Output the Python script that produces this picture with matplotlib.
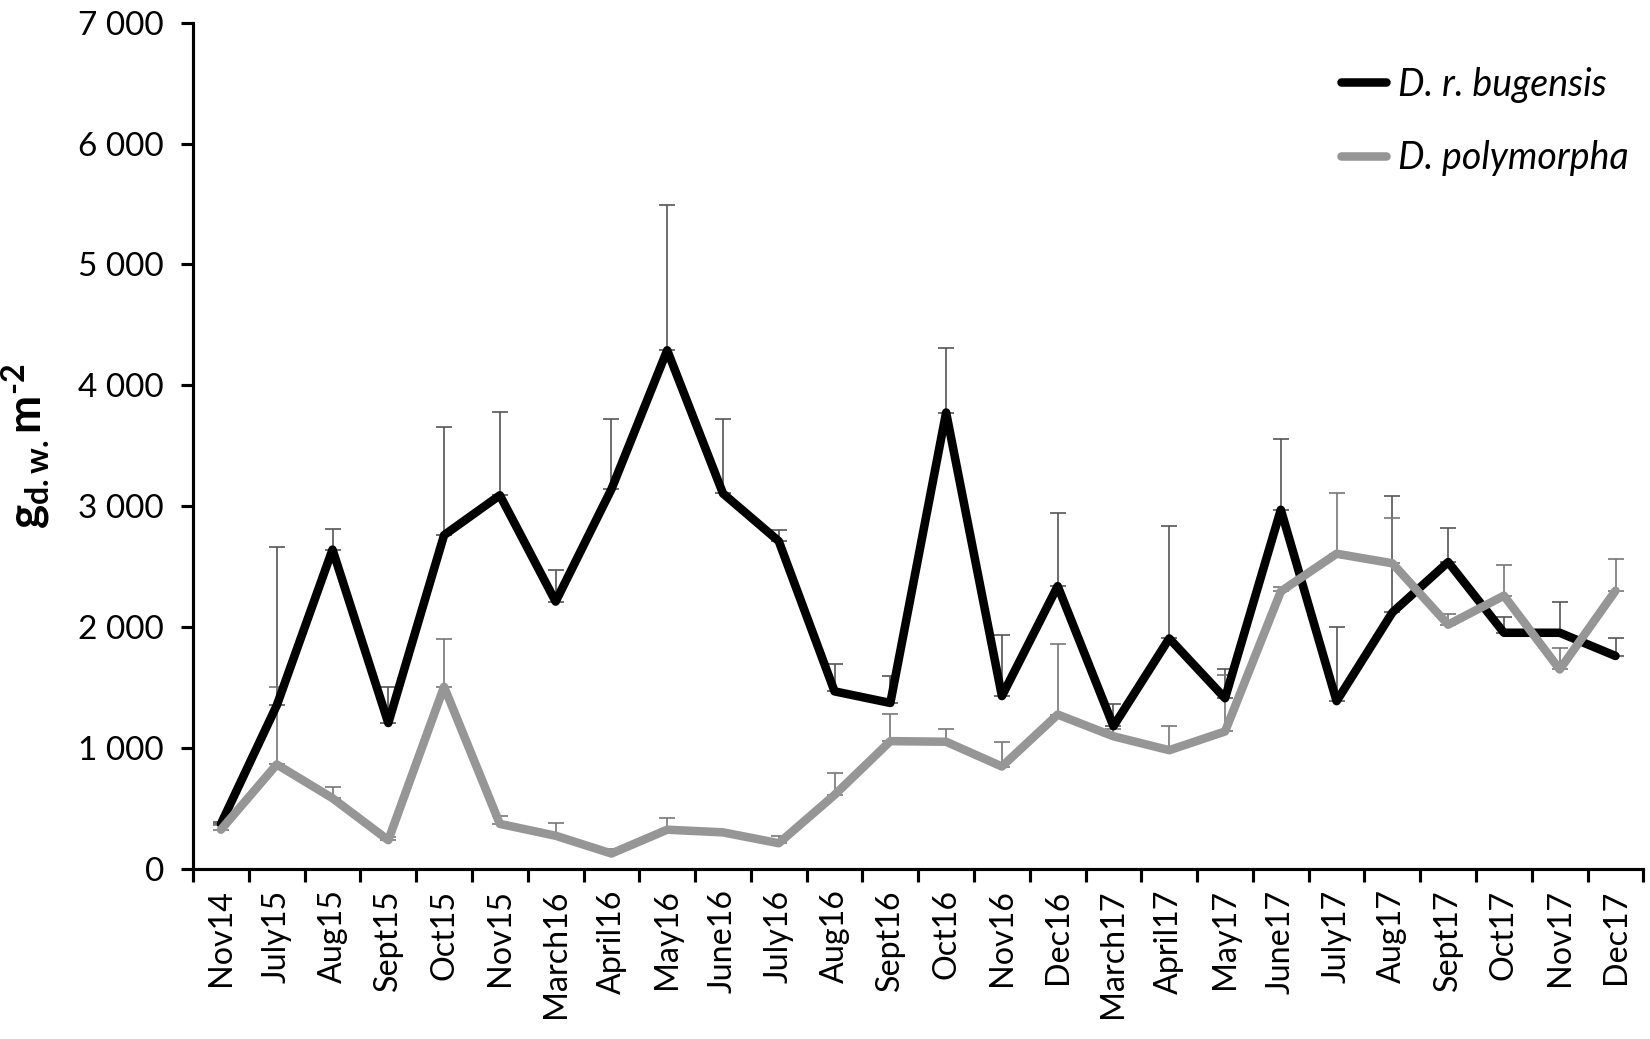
import numpy as np
import matplotlib.pyplot as plt
from matplotlib.ticker import FuncFormatter, FixedLocator

plt.rcParams['font.family'] = ['Lato', 'DejaVu Sans']
plt.rcParams['mathtext.fontset'] = 'custom'
plt.rcParams['mathtext.rm'] = 'Lato:bold'
plt.rcParams['mathtext.bf'] = 'Lato:bold'
plt.rcParams['mathtext.it'] = 'Lato:bold'

# sampling dates
months = ["Nov14", "July15", "Aug15", "Sept15", "Oct15", "Nov15", "March16",
          "April16", "May16", "June16", "July16", "Aug16", "Sept16", "Oct16",
          "Nov16", "Dec16", "March17", "April17", "May17", "June17", "July17",
          "Aug17", "Sept17", "Oct17", "Nov17", "Dec17"]

# D. r. bugensis biomass and top of its error bar
bug_mean = [370, 1350, 2640, 1205, 2760, 3090, 2210, 3140, 4290, 3105, 2710,
            1467, 1371, 3775, 1428, 2338, 1178, 1905, 1410, 2970, 1386, 2120,
            2537, 1952, 1952, 1760]
bug_top = [385, 2660, 2810, 1504, 3655, 3780, 2472, 3725, 5495, 3725, 2800,
           1690, 1598, 4310, 1930, 2945, 1365, 2832, 1648, 3555, 1996, 3082,
           2815, 2085, 2210, 1910]

# D. polymorpha biomass and top of its error bar
poly_mean = [322, 862, 583, 235, 1505, 370, 272, 125, 322, 300, 210, 610,
             1055, 1050, 845, 1275, 1095, 980, 1135, 2294, 2606, 2527, 2019,
             2259, 1648, 2300]
poly_top = [360, 1505, 672, 265, 1898, 432, 375, 160, 418, 310, 268, 795,
            1282, 1152, 1048, 1855, 1158, 1178, 1606, 2330, 3106, 2905, 2110,
            2510, 1830, 2562]

x = np.arange(len(months))
bug_mean = np.array(bug_mean)
poly_mean = np.array(poly_mean)
bug_err = np.array(bug_top) - bug_mean
poly_err = np.array(poly_top) - poly_mean

fig = plt.figure(figsize=(11, 1039 / 150), dpi=150)
ax = fig.add_axes([0.117, 0.164, 0.879, 0.814])

ax.errorbar(x, bug_mean, yerr=[np.zeros_like(bug_err), bug_err], fmt='none',
            ecolor='#555555', elinewidth=0.8, capsize=4, capthick=0.8, zorder=1)
ax.errorbar(x, poly_mean, yerr=[np.zeros_like(poly_err), poly_err], fmt='none',
            ecolor='#777777', elinewidth=0.8, capsize=4, capthick=0.8, zorder=1)
ax.plot(x, bug_mean, color='black', lw=4.1, solid_capstyle='round',
        solid_joinstyle='round', label='D. r. bugensis', zorder=3)
ax.plot(x, poly_mean, color='#969696', lw=4.1, solid_capstyle='round',
        solid_joinstyle='round', label='D. polymorpha', zorder=4)

ax.set_xlim(-0.5, len(months) - 0.5)
ax.set_ylim(0, 7000)
ax.set_yticks(np.arange(0, 7001, 1000))
ax.yaxis.set_major_formatter(FuncFormatter(lambda v, p: f"{int(v):,}".replace(",", " ")))

ax.set_xticks(x)
ax.set_xticklabels(months, rotation=90)
ax.xaxis.set_minor_locator(FixedLocator(np.arange(-0.5, len(months), 1.0)))
ax.tick_params(axis='x', which='major', length=0, pad=10, labelsize=15.5)
ax.tick_params(axis='x', which='minor', length=6, width=1.5, direction='out')
ax.tick_params(axis='y', length=6, width=1.5, direction='out', labelsize=16, pad=8)

for s in ['top', 'right']:
    ax.spines[s].set_visible(False)
for s in ['left', 'bottom']:
    ax.spines[s].set_linewidth(1.5)

ax.set_ylabel(r'$\mathbf{g_{d.w.}m^{\text{-2}}}$', fontsize=22, labelpad=12)

leg = ax.legend(loc='upper right', bbox_to_anchor=(1.005, 0.975), frameon=False,
                prop={'style': 'italic', 'size': 18}, handlelength=1.2,
                handletextpad=0.3, labelspacing=1.0, borderaxespad=0.2)

fig.savefig('out.png', dpi=150)
